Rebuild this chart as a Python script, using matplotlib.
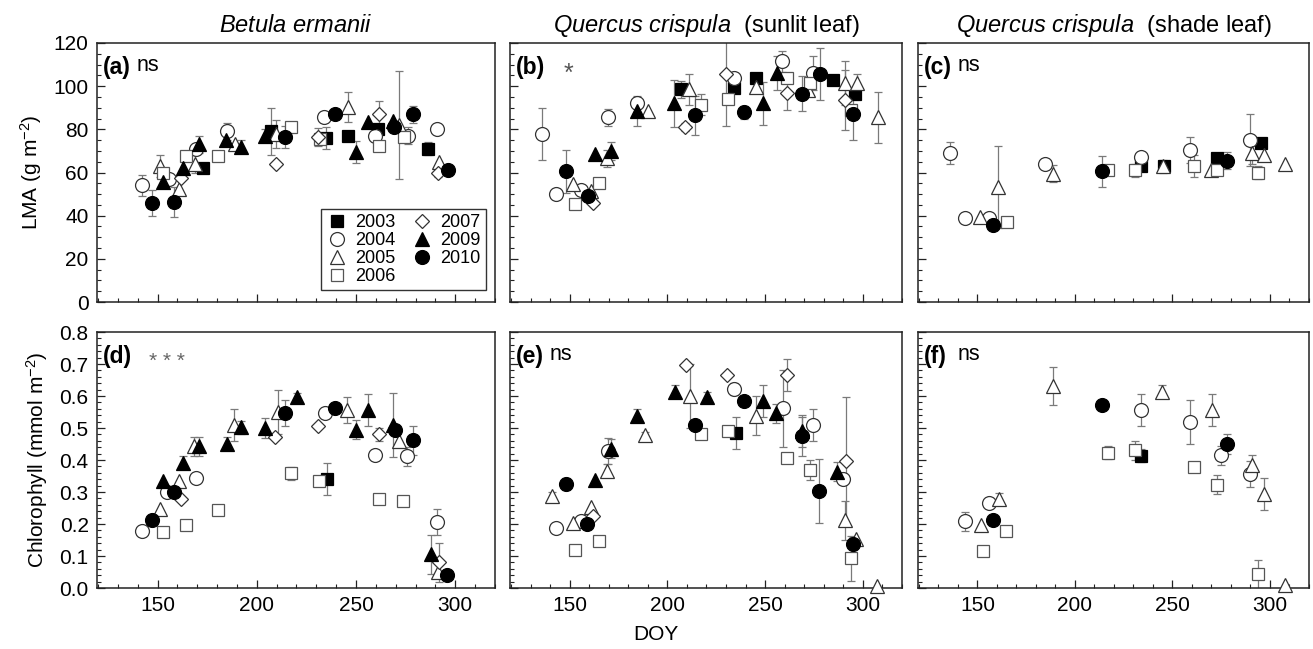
import matplotlib
matplotlib.use("Agg")
import matplotlib.pyplot as plt
from matplotlib.ticker import MultipleLocator

plt.rcParams['font.family'] = ['Liberation Sans', 'DejaVu Sans']
plt.rcParams['mathtext.fontset'] = 'custom'
plt.rcParams['mathtext.rm'] = 'Liberation Sans'
plt.rcParams['mathtext.it'] = 'Liberation Sans:italic'
plt.rcParams['mathtext.bf'] = 'Liberation Sans:bold'

# ---- data: (DOY, mean, SD) per year ----
# (a) Betula ermanii, LMA
a_2003 = [(173, 62, 0), (207, 79, 11), (235, 76, 5), (246, 77, 0), (261, 80, 0), (286, 71, 3)]
a_2004 = [(142, 54, 5), (156, 57, 0), (169.6, 71, 0), (185, 79, 4), (234, 85.5, 0),
          (259.5, 77, 0), (276, 77, 4), (291, 80, 0)]
a_2005 = [(151.4, 63, 5), (160.7, 52.4, 0), (168.7, 64, 4), (189, 73, 0), (209.6, 78, 6.5),
          (246, 90.5, 7), (271.5, 82, 25), (292, 65, 0)]
a_2006 = [(152.6, 60, 0), (164.5, 67.5, 0), (180.7, 67.5, 0), (217, 81, 0), (232, 75.5, 0),
          (261.6, 72.5, 0), (274, 76.5, 0)]
a_2007 = [(162, 57.5, 0), (209.6, 64, 0), (230.6, 76.5, 4), (261.6, 87, 6), (291.4, 60, 2)]
a_2009 = [(152.6, 55.5, 0), (163, 62, 0), (171, 73, 4), (184.6, 75, 0), (192, 72, 3),
          (204, 77, 3), (250, 69.5, 5), (256, 83.5, 0), (268.4, 84, 0)]
a_2010 = [(147.4, 46, 6), (158.5, 46.5, 7), (214, 76.5, 5), (239.4, 87, 0), (269, 81, 0),
          (278.6, 87, 4), (296.5, 61, 2)]

# (b) Quercus crispula sunlit leaf, LMA
b_2003 = [(206.8, 98.5, 4), (234, 99, 0), (245.4, 104, 0), (284.7, 103, 0), (295.8, 96.5, 0)]
b_2004 = [(136, 78, 12), (143.2, 50, 0), (156, 52, 0), (169.8, 85.5, 4), (184.7, 92, 0),
          (234, 104, 0), (258.5, 111.5, 5), (274.6, 106, 8)]
b_2005 = [(151.7, 54.5, 0), (161, 51.5, 0), (169, 66.5, 4), (190, 88.5, 0), (211, 98.5, 7),
          (245.4, 99.5, 0), (272, 98, 0), (290.7, 101.5, 10), (297, 101.5, 4), (307.6, 85.5, 12)]
b_2006 = [(153, 45.5, 0), (165, 55, 0), (217, 91.5, 5), (231, 94, 0), (261, 104, 0),
          (273, 101.5, 0), (294, 89, 0)]
b_2007 = [(161.9, 46, 0), (208.8, 81, 2), (230, 105.5, 24), (261, 97, 8), (290.7, 93.5, 14)]
b_2009 = [(163.2, 68.5, 0), (171, 70, 4), (184.7, 88.5, 7), (203.4, 92, 11), (249, 92, 10),
          (256, 106, 8)]
b_2010 = [(148, 60.5, 10), (159.3, 49, 0), (214, 86.5, 9), (239, 88, 3), (268.6, 96.5, 8),
          (278, 105.5, 12), (295, 87, 12)]

# (c) Quercus crispula shade leaf, LMA
c_2003 = [(233.7, 63, 0), (245.6, 63, 0), (272.7, 66.5, 0), (295.3, 73.5, 0)]
c_2004 = [(136, 69, 5), (143.7, 39, 0), (156, 39, 0), (184.5, 64, 0), (233.7, 67, 0),
          (258.8, 70.5, 6), (289.7, 75, 12)]
c_2005 = [(151.4, 39.5, 0), (160.7, 53.5, 19), (188.7, 59.5, 4), (245, 63, 3), (270, 61, 0),
          (290.6, 69, 5), (297, 68, 0), (307.6, 64, 0)]
c_2006 = [(165, 37, 0), (216.7, 61, 0), (230.8, 61, 3), (261, 63, 5), (272.7, 61, 0),
          (293.6, 60, 3)]
c_2007 = []
c_2009 = []
c_2010 = [(158, 35.5, 0), (213.8, 60.5, 7), (277.8, 65.5, 4)]

# (d) Betula ermanii, chlorophyll
d_2003 = [(235.2, 0.342, 0.05)]
d_2004 = [(142.3, 0.177, 0), (155, 0.30, 0), (169.6, 0.345, 0), (234.3, 0.546, 0),
          (259.5, 0.417, 0), (275.7, 0.412, 0.03), (291, 0.206, 0.04)]
d_2005 = [(151.4, 0.247, 0), (160.7, 0.335, 0), (168.2, 0.443, 0.03), (188.7, 0.51, 0.05),
          (210.5, 0.55, 0.07), (245.4, 0.557, 0.04), (271.5, 0.46, 0), (291.4, 0.05, 0)]
d_2006 = [(152.6, 0.175, 0), (164.5, 0.196, 0), (180.7, 0.245, 0), (217, 0.359, 0.02),
          (231.4, 0.335, 0), (261.6, 0.278, 0), (273.5, 0.271, 0)]
d_2007 = [(162, 0.278, 0), (209, 0.472, 0), (230.6, 0.507, 0), (261.6, 0.48, 0.02),
          (292, 0.08, 0.06)]
d_2009 = [(152.6, 0.335, 0), (162.8, 0.392, 0.02), (171, 0.443, 0.03), (185, 0.451, 0.02),
          (192, 0.502, 0.02), (204, 0.5, 0.03), (220.4, 0.598, 0.01), (250, 0.495, 0.03),
          (256.2, 0.557, 0.05), (268.4, 0.51, 0.1), (288, 0.105, 0.06)]
d_2010 = [(147.4, 0.214, 0), (158.5, 0.30, 0), (214.4, 0.546, 0.04), (239.4, 0.562, 0.01),
          (269.5, 0.495, 0), (278.6, 0.461, 0.045), (296, 0.041, 0)]

# (e) Quercus crispula sunlit leaf, chlorophyll
e_2003 = [(235, 0.483, 0.05)]
e_2004 = [(143.2, 0.186, 0), (156, 0.209, 0), (169.6, 0.428, 0.04), (234, 0.622, 0.02),
          (259, 0.562, 0.12), (274.6, 0.51, 0.05), (289.8, 0.34, 0)]
e_2005 = [(141, 0.289, 0.01), (151.7, 0.203, 0), (160.7, 0.253, 0), (169.2, 0.366, 0.02),
          (188.7, 0.477, 0.01), (211.7, 0.601, 0.1), (245.4, 0.539, 0.06), (290.7, 0.211, 0.06),
          (296.6, 0.152, 0), (307.3, 0.005, 0)]
e_2006 = [(153, 0.12, 0), (165, 0.146, 0), (217, 0.481, 0), (231, 0.492, 0), (261, 0.407, 0),
          (273, 0.369, 0.03), (294, 0.093, 0.07)]
e_2007 = [(162, 0.224, 0), (209.6, 0.698, 0), (230.4, 0.667, 0), (261, 0.665, 0.05),
          (291.4, 0.397, 0.2)]
e_2009 = [(163.2, 0.338, 0), (171.2, 0.435, 0.03), (184.7, 0.538, 0.02), (204, 0.613, 0.02),
          (220.3, 0.598, 0.015), (249, 0.585, 0.05), (255.6, 0.546, 0.03), (268.6, 0.49, 0.05),
          (286.8, 0.364, 0.03)]
e_2010 = [(148, 0.325, 0.02), (159, 0.201, 0), (214, 0.51, 0), (239, 0.585, 0),
          (268.6, 0.474, 0.06), (277.6, 0.304, 0.1), (295, 0.139, 0.02)]

# (f) Quercus crispula shade leaf, chlorophyll
f_2003 = [(234, 0.414, 0.02)]
f_2004 = [(143.7, 0.209, 0.03), (156, 0.266, 0), (233.7, 0.555, 0.05), (258.8, 0.519, 0.07),
          (274.8, 0.415, 0.03), (289.7, 0.356, 0.04)]
f_2005 = [(151.7, 0.196, 0), (161, 0.278, 0.02), (188.7, 0.632, 0.06), (244.7, 0.613, 0.02),
          (270.2, 0.555, 0.05), (290.6, 0.385, 0.03), (296.9, 0.294, 0.05), (307.6, 0.01, 0)]
f_2006 = [(152.7, 0.116, 0), (164.6, 0.178, 0), (216.7, 0.423, 0.02), (230.8, 0.43, 0.03),
          (261, 0.378, 0), (272.7, 0.323, 0.03), (293.6, 0.043, 0.045)]
f_2007 = []
f_2009 = []
f_2010 = [(157.8, 0.213, 0), (213.8, 0.572, 0), (277.8, 0.45, 0.03)]

years = ['2003', '2004', '2005', '2006', '2007', '2009', '2010']
panel_labels = ['(a)', '(b)', '(c)', '(d)', '(e)', '(f)']
panel_stats = ['ns', '*', 'ns', '***', 'ns', 'ns']
col_titles = [r'$\it{Betula\ ermanii}$',
              r'$\it{Quercus\ crispula}$  (sunlit leaf)',
              r'$\it{Quercus\ crispula}$  (shade leaf)']

panels = [
    [a_2003, a_2004, a_2005, a_2006, a_2007, a_2009, a_2010],
    [b_2003, b_2004, b_2005, b_2006, b_2007, b_2009, b_2010],
    [c_2003, c_2004, c_2005, c_2006, c_2007, c_2009, c_2010],
    [d_2003, d_2004, d_2005, d_2006, d_2007, d_2009, d_2010],
    [e_2003, e_2004, e_2005, e_2006, e_2007, e_2009, e_2010],
    [f_2003, f_2004, f_2005, f_2006, f_2007, f_2009, f_2010],
]

# marker style for each year: (marker, filled)
styles = {
    '2003': ('s', True), '2004': ('o', False), '2005': ('^', False), '2006': ('s', False),
    '2007': ('D', False), '2009': ('^', True), '2010': ('o', True),
}
msize = {'s': 9, 'o': 10, '^': 9.5, 'D': 7.5}
open_edge = {'2004': '#333333', '2005': '#333333', '2006': '#555555', '2007': '#333333'}

W, H = 1313, 649
fig = plt.figure(figsize=(W / 100, H / 100), dpi=100)

col_px = [(97, 495), (510, 902), (918, 1309)]
row_px = [(43, 302), (332, 588)]

axes = []
for r in range(2):
    for c in range(3):
        x0, x1 = col_px[c]
        y0, y1 = row_px[r]
        ax = fig.add_axes([x0 / W, 1 - y1 / H, (x1 - x0) / W, (y1 - y0) / H])
        axes.append(ax)

handles = {}
for i, ax in enumerate(axes):
    row = i // 3
    for yr, series in zip(years, panels[i]):
        if not series:
            continue
        mk, filled = styles[yr]
        xs = [p[0] for p in series]
        ys = [p[1] for p in series]
        es = [p[2] for p in series]
        ex = [x for x, e in zip(xs, es) if e > 0]
        ey = [y for y, e in zip(ys, es) if e > 0]
        ee = [e for e in es if e > 0]
        if ee:
            ax.errorbar(ex, ey, yerr=ee, fmt='none', ecolor='#7a7a7a', elinewidth=0.9,
                        capsize=3, capthick=0.9, zorder=2, clip_on=True)
        fc = 'black' if filled else 'white'
        ec = 'black' if filled else open_edge[yr]
        h, = ax.plot(xs, ys, linestyle='none', marker=mk, markersize=msize[mk],
                     markerfacecolor=fc, markeredgecolor=ec, markeredgewidth=0.9,
                     zorder=3, clip_on=False)
        handles.setdefault(yr, h)

    ax.set_xlim(119.5, 320)
    if row == 0:
        ax.set_ylim(0, 120)
        ax.yaxis.set_major_locator(MultipleLocator(20))
        ax.yaxis.set_minor_locator(MultipleLocator(5))
    else:
        ax.set_ylim(0, 0.8)
        ax.yaxis.set_major_locator(MultipleLocator(0.1))
        ax.yaxis.set_minor_locator(MultipleLocator(0.02))
    ax.xaxis.set_major_locator(MultipleLocator(50))
    ax.xaxis.set_minor_locator(MultipleLocator(10))
    ax.tick_params(which='both', direction='in', top=False, right=False, color='#222222')
    ax.tick_params(which='major', length=6, width=0.9, labelsize=15, pad=6)
    ax.tick_params(which='minor', length=3, width=0.8)
    for sp in ax.spines.values():
        sp.set_linewidth(1.1)
        sp.set_color('#222222')

    if i % 3 != 0:
        ax.tick_params(labelleft=False)
    if row == 0:
        ax.tick_params(labelbottom=False)
    if row == 1:
        ax.xaxis.set_ticks([150, 200, 250, 300])
    if row == 1 and i == 3:
        ax.set_yticks([0.0, 0.1, 0.2, 0.3, 0.4, 0.5, 0.6, 0.7, 0.8])
        ax.set_yticklabels(['0.0', '0.1', '0.2', '0.3', '0.4', '0.5', '0.6', '0.7', '0.8'])

    # panel label and significance
    ax.text(0.015, 0.905, panel_labels[i], transform=ax.transAxes, fontsize=16.5,
            fontweight='bold', ha='left', va='center', zorder=5)
    stat = panel_stats[i]
    if stat == 'ns':
        ax.text(0.1, 0.912, 'ns', transform=ax.transAxes, fontsize=15.5,
                ha='left', va='center', zorder=5)
    elif stat == '*':
        ax.text(0.138, 0.88, stat, transform=ax.transAxes, fontsize=18, color='#555555',
                ha='left', va='center', zorder=5)
    else:
        ax.text(0.13, 0.885, ' '.join(stat), transform=ax.transAxes, fontsize=15,
                color='#666666', ha='left', va='center', zorder=5)

for c in range(3):
    axes[c].set_title(col_titles[c], fontsize=17, pad=8)

axes[0].set_ylabel(r'LMA (g m$^{-2}$)', fontsize=15, labelpad=7)
axes[3].set_ylabel(r'Chlorophyll (mmol m$^{-2}$)', fontsize=15, labelpad=7)
fig.text(656 / W, 1 - 635 / H, 'DOY', fontsize=15, ha='center', va='center')

leg = axes[0].legend([handles[y] for y in years], years, ncol=2, loc='lower right',
                     bbox_to_anchor=(0.978, 0.045), fontsize=13, frameon=True,
                     fancybox=False, edgecolor='black', handletextpad=0.4,
                     columnspacing=0.9, labelspacing=0.05, borderpad=0.3,
                     handlelength=1.2, borderaxespad=0)
leg.get_frame().set_linewidth(1.0)

fig.savefig('out.png', dpi=100)
